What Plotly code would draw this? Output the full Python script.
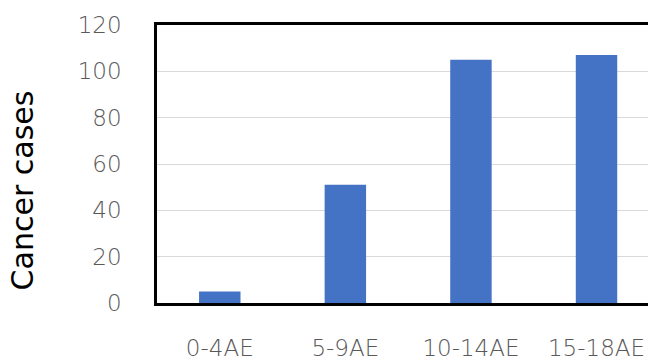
import plotly.graph_objects as go

# Cancer cases by age group
age_groups = ["0-4AE", "5-9AE", "10-14AE", "15-18AE"]
cases = [5, 51, 105, 107]
y_ticks = [0, 20, 40, 60, 80, 100, 120]

FONT = "DejaVu Sans"
GREY = "#595959"

fig = go.Figure(
    go.Bar(
        x=age_groups,
        y=cases,
        width=0.33,
        marker=dict(color="#4472C4", line=dict(width=0)),
        hoverinfo="x+y",
    )
)

fig.update_layout(
    width=648,
    height=361,
    margin=dict(l=157, r=0, t=25, b=50),
    paper_bgcolor="white",
    plot_bgcolor="white",
    showlegend=False,
    font=dict(family=FONT, color=GREY),
    annotations=[
        dict(
            text="Cancer cases",
            textangle=-90,
            xref="paper",
            yref="paper",
            x=-0.275,
            y=0.405,
            xanchor="center",
            yanchor="middle",
            showarrow=False,
            font=dict(family=FONT, size=30, color="black"),
        )
    ],
)

fig.update_xaxes(
    type="category",
    range=[-0.5, 3.41],
    showline=True,
    linecolor="black",
    linewidth=2.5,
    mirror=True,
    ticks="",
    showgrid=False,
    tickfont=dict(family=FONT, size=23, color=GREY, weight=300),
    ticklabelstandoff=23,
)

fig.update_yaxes(
    range=[0, 120],
    tickvals=y_ticks,
    showline=True,
    linecolor="black",
    linewidth=2.5,
    ticks="",
    showgrid=True,
    gridcolor="#d9d9d9",
    gridwidth=1,
    zeroline=False,
    tickfont=dict(family=FONT, size=23, color=GREY, weight=300),
    ticklabelstandoff=28,
)

fig.write_html("out.html")
